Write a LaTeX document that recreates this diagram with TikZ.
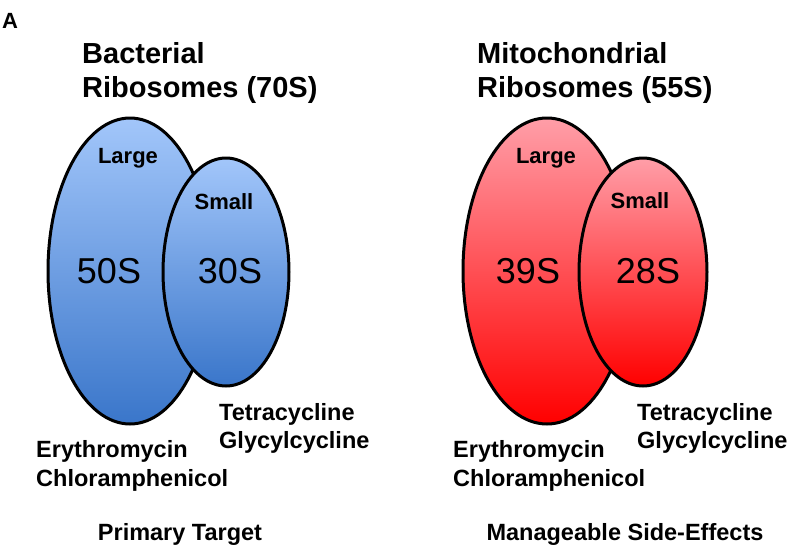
\documentclass[tikz,border=0pt]{standalone}
\usepackage{fontspec}
\setmainfont{Liberation Sans}
\usetikzlibrary{shapes.geometric}
\definecolor{bluetop}{RGB}{162,198,250}
\definecolor{bluebot}{RGB}{58,118,202}
\definecolor{redtop}{RGB}{255,158,168}
\definecolor{redbot}{RGB}{255,0,0}
\tikzset{
  ribo/.style={ellipse, draw=black, line width=3pt, inner sep=0pt},
  bluefill/.style={top color=bluetop, bottom color=bluebot},
  redfill/.style={top color=redtop, bottom color=redbot},
  panel/.style={font=\fontsize{22pt}{26pt}\selectfont\bfseries, inner sep=0pt},
  title/.style={font=\fontsize{29}{34}\selectfont\bfseries, inner sep=0pt},
  sublabel/.style={font=\fontsize{22}{26}\selectfont\bfseries, inner sep=0pt},
  svalue/.style={font=\fontsize{36}{40}\selectfont, inner sep=0pt},
  drug/.style={font=\fontsize{23.5}{28}\selectfont\bfseries, inner sep=0pt},
}
\begin{document}
\begin{tikzpicture}[x=1pt,y=-1pt]
\useasboundingbox (0,0) rectangle (796,557);
\node[panel, anchor=base west] (lblA) at (2,28) {A};
% Bacterial
\node[title, anchor=base west] (bt1) at (82,63) {Bacterial};
\node[title, anchor=base west] (bt2) at (82,97) {Ribosomes (70S)};
\node[ribo, bluefill, minimum width=164pt, minimum height=306pt] (bL) at (130,271) {};
\node[ribo, bluefill, minimum width=126pt, minimum height=228pt] (bS) at (226,272) {};
\node[sublabel, anchor=base] (bLl) at (128,163) {Large};
\node[sublabel, anchor=base] (bSl) at (224,209) {Small};
\node[svalue, anchor=base] (b50) at (109,283) {50S};
\node[svalue, anchor=base] (b30) at (230,283) {30S};
\node[drug, anchor=base west] (bd1) at (219,420) {Tetracycline};
\node[drug, anchor=base west] (bd2) at (219,448) {Glycylcycline};
\node[drug, anchor=base west] (bd3) at (36,457) {Erythromycin};
\node[drug, anchor=base west] (bd4) at (36,486) {Chloramphenicol};
\node[drug, anchor=base] (bpt) at (180,540) {Primary Target};
% Mitochondrial
\node[title, anchor=base west] (mt1) at (477,63) {Mitochondrial};
\node[title, anchor=base west] (mt2) at (477,97) {Ribosomes (55S)};
\node[ribo, redfill, minimum width=168pt, minimum height=306pt] (mL) at (547,271) {};
\node[ribo, redfill, minimum width=128pt, minimum height=228pt] (mS) at (643,272) {};
\node[sublabel, anchor=base] (mLl) at (546,163) {Large};
\node[sublabel, anchor=base] (mSl) at (640,208) {Small};
\node[svalue, anchor=base] (m39) at (528,283) {39S};
\node[svalue, anchor=base] (m28) at (648,283) {28S};
\node[drug, anchor=base west] (md1) at (637,420) {Tetracycline};
\node[drug, anchor=base west] (md2) at (637,448) {Glycylcycline};
\node[drug, anchor=base west] (md3) at (453,457) {Erythromycin};
\node[drug, anchor=base west] (md4) at (453,486) {Chloramphenicol};
\node[drug, anchor=base] (mse) at (625,540) {Manageable Side-Effects};
\end{tikzpicture}
\end{document}
